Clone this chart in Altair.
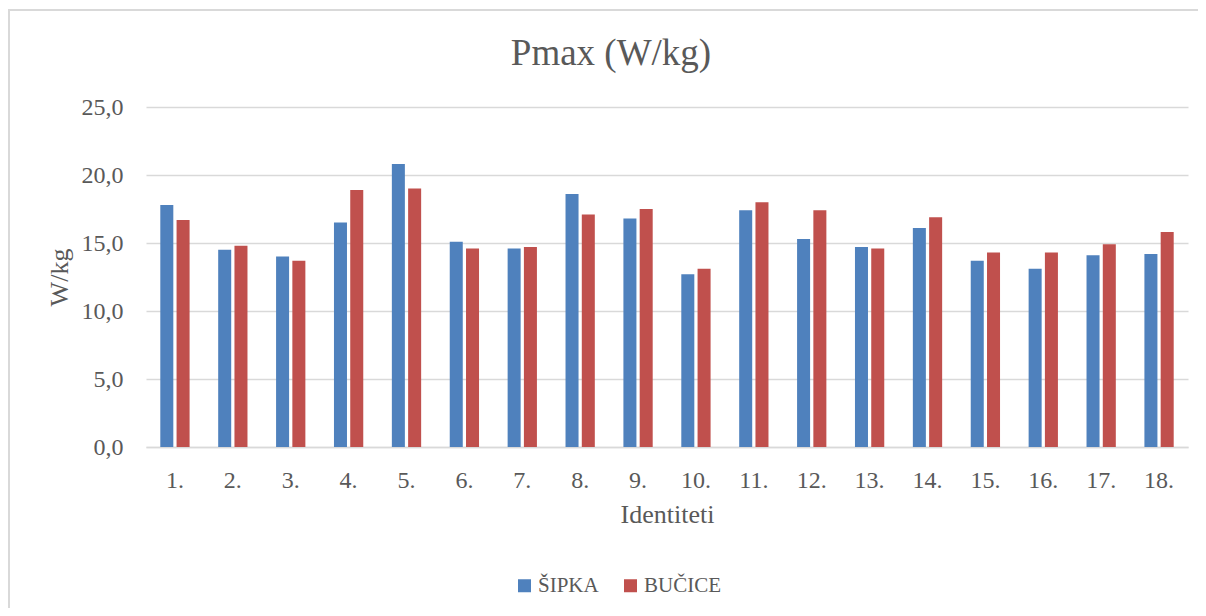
import altair as alt
import pandas as pd

ids = [f"{i}." for i in range(1, 19)]
sipka = [17.8, 14.5, 14.0, 16.5, 20.8, 15.1, 14.6, 18.6, 16.8, 12.7, 17.4, 15.3, 14.7, 16.1, 13.7, 13.1, 14.1, 14.2]
bucice = [16.7, 14.8, 13.7, 18.9, 19.0, 14.6, 14.7, 17.1, 17.5, 13.1, 18.0, 17.4, 14.6, 16.9, 14.3, 14.3, 14.9, 15.8]
series = ["ŠIPKA", "BUČICE"]
colors = ["#4F81BD", "#C0504D"]
title_text = "Pmax (W/kg)"

rows = []
for i, cid in enumerate(ids):
    rows.append({"id": cid, "serija": series[0], "val": sipka[i]})
    rows.append({"id": cid, "serija": series[1], "val": bucice[i]})
df = pd.DataFrame(rows)

FONT = "Liberation Serif"
TXT = "#595959"
GRID = "#d9d9d9"

bars = alt.Chart(df).mark_bar().encode(
    x=alt.X("id:N", sort=ids,
            scale=alt.Scale(paddingInner=0.494, paddingOuter=0.247),
            axis=alt.Axis(title="Identiteti", labelAngle=0, ticks=False, tickSize=0,
                          labelPadding=40, labelBaseline="alphabetic",
                          labelFont=FONT, labelFontSize=24, labelColor=TXT,
                          titleFont=FONT, titleFontSize=26, titleColor=TXT,
                          titleFontWeight="normal", titleBaseline="alphabetic",
                          titleY=75, titleX=521,
                          domainColor=GRID, domainWidth=1.5, grid=False)),
    xOffset=alt.XOffset("serija:N", sort=series,
                        scale=alt.Scale(paddingInner=0.2, paddingOuter=0)),
    y=alt.Y("val:Q",
            scale=alt.Scale(domain=[0, 25]),
            axis=alt.Axis(title="W/kg", values=[0, 5, 10, 15, 20, 25],
                          labelExpr="replace(format(datum.value, '.1f'), '.', ',')",
                          ticks=False, tickSize=0, domain=False, labelPadding=23,
                          labelFont=FONT, labelFontSize=24, labelColor=TXT,
                          titleFont=FONT, titleFontSize=26, titleColor=TXT,
                          titleFontWeight="normal", titleBaseline="alphabetic",
                          titleAngle=270, titleX=-79, titleY=170, titleAlign="center",
                          gridColor=GRID, gridWidth=1.5)),
    color=alt.Color("serija:N", sort=series,
                    scale=alt.Scale(domain=series, range=colors),
                    legend=alt.Legend(title=None, orient="none", direction="horizontal",
                                      legendX=368, legendY=468,
                                      symbolType="square", symbolSize=169,
                                      symbolStrokeWidth=0, symbolOpacity=1,
                                      labelFont=FONT, labelFontSize=21, labelColor=TXT,
                                      labelOffset=3, columnPadding=21)),
)

one = pd.DataFrame({"t": [title_text]})

border = alt.Chart(one).mark_rect(
    filled=False, stroke=GRID, strokeWidth=2
).encode(
    x=alt.value(-137), x2=alt.value(1080),
    y=alt.value(-97), y2=alt.value(530),
)

title = alt.Chart(one).mark_text(
    font=FONT, fontSize=37, color=TXT, align="center", baseline="alphabetic"
).encode(
    text="t:N", x=alt.value(465), y=alt.value(-42),
)

chart = alt.layer(border, bars, title).properties(
    width=1042, height=340,
    autosize=alt.AutoSizeParams(type="none"),
    padding={"left": 138, "top": 99, "right": 10, "bottom": 161},
).configure_view(stroke=None)

chart.save("out.html", embed_options={"renderer": "svg", "actions": False})
